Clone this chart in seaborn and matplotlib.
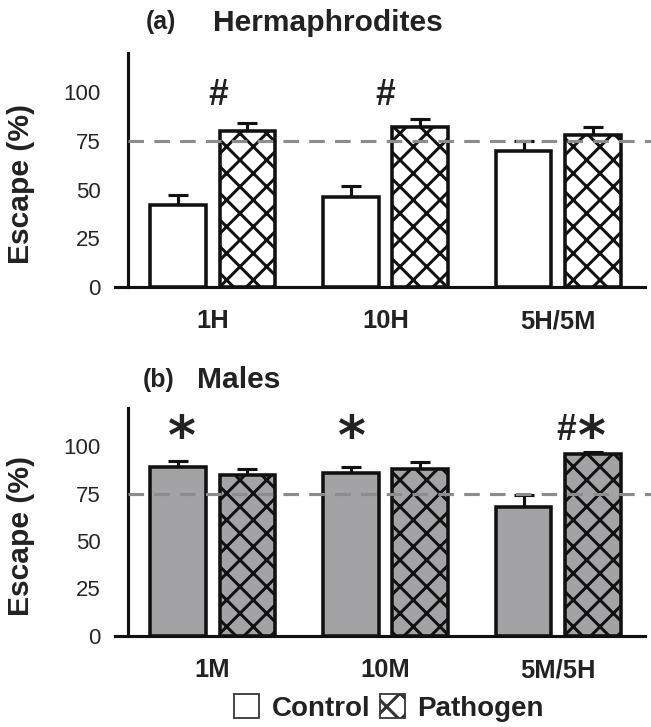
import matplotlib
matplotlib.use("Agg")
import matplotlib.pyplot as plt
from matplotlib.patches import Patch
import seaborn as sns
import pandas as pd

# ---------------- data ----------------
groups_top = ["1H", "10H", "5H/5M"]
groups_bot = ["1M", "10M", "5M/5H"]
conditions = ["Control", "Pathogen"]

top_control = [42, 46, 70]
top_control_err = [5, 6, 5]
top_pathogen = [80, 82, 78]
top_pathogen_err = [4, 4, 4]

bot_control = [89, 86, 68]
bot_control_err = [3, 3, 6]
bot_pathogen = [85, 88, 96]
bot_pathogen_err = [3, 3.5, 1]

threshold = 75
yticks = [0, 25, 50, 75, 100]

# ---------------- style ----------------
sns.set_style("white")
plt.rcParams["font.family"] = ["Liberation Sans", "DejaVu Sans"]
plt.rcParams["hatch.linewidth"] = 1.35
plt.rcParams["hatch.color"] = "black"

DPI = 160
W, H = 651, 727
fig = plt.figure(figsize=(W / DPI, H / DPI), dpi=DPI)
fig.patch.set_facecolor("white")

LW = 1.4
GRAY = "#a2a3a7"
TXT = "#222222"


def px_axes(left, right, top, bottom):
    return [left / W, 1 - bottom / H, (right - left) / W, (bottom - top) / H]


def make_panel(ax, groups, ctrl, ctrl_err, path, path_err, color):
    df = pd.DataFrame({
        "group": groups * 2,
        "condition": [conditions[0]] * 3 + [conditions[1]] * 3,
        "value": ctrl + path,
    })
    sns.barplot(data=df, x="group", y="value", hue="condition",
                order=groups, hue_order=conditions,
                palette={conditions[0]: color, conditions[1]: color},
                width=0.8, gap=0.2, edgecolor="#111111", linewidth=1.6,
                errorbar=None, legend=False, ax=ax, zorder=2)
    for bar in ax.containers[1]:
        bar.set_hatch("xx")
    for cont, errs in zip(ax.containers, [ctrl_err, path_err]):
        for bar, e in zip(cont, errs):
            x = bar.get_x() + bar.get_width() / 2
            v = bar.get_height()
            ax.errorbar(x, v, yerr=[[0], [e]], fmt="none", ecolor="#111111",
                        elinewidth=LW, capsize=4.7, capthick=LW, zorder=1)
    ax.axhline(threshold, xmin=0.0245, xmax=1.02, color="#8c8c8c", lw=LW,
               dashes=(5, 3.3), zorder=3, clip_on=False)
    ax.set_xlim(-0.565, 2.501)
    ax.set_ylim(0, 120)
    ax.set_yticks(yticks)
    ax.set_yticklabels([str(t) for t in yticks], fontsize=10.5, color=TXT)
    ax.set_xticks(range(3))
    ax.set_xticklabels(groups, fontsize=11.5, fontweight="bold", color=TXT)
    ax.tick_params(axis="y", length=5.85, width=LW, pad=6.5, color="#111111")
    ax.tick_params(axis="x", length=3.6, width=LW, pad=6.5, color="#111111")
    for s in ["top", "right"]:
        ax.spines[s].set_visible(False)
    for s in ["left", "bottom"]:
        ax.spines[s].set_linewidth(LW)
        ax.spines[s].set_color("#111111")
    ax.spines["left"].set_position(("axes", 0.0245))
    ax.set_xlabel("")
    ax.set_ylabel("Escape (%)", fontsize=13.5, fontweight="bold", color=TXT)
    ax.yaxis.set_label_coords(-0.151, 0.44)
    ax.set_facecolor("none")


ax1 = fig.add_axes(px_axes(115, 645, 53, 287))
make_panel(ax1, groups_top, top_control, top_control_err,
           top_pathogen, top_pathogen_err, "white")
ax2 = fig.add_axes(px_axes(115, 645, 408, 636))
make_panel(ax2, groups_bot, bot_control, bot_control_err,
           bot_pathogen, bot_pathogen_err, GRAY)

# significance marks
for gx in [0.03, 1.0]:
    ax1.text(gx, 98.0, "#", ha="center", va="center", fontsize=16,
             fontweight="bold", color=TXT)
for gx in [-0.177, 0.806, 2.194]:
    ax2.text(gx, 103.8, "*", ha="center", va="center", fontsize=24,
             fontweight="bold", color=TXT, family="DejaVu Sans")
ax2.text(2.044, 108.0, "#", ha="center", va="center", fontsize=16,
         fontweight="bold", color=TXT)

# panel titles
def fig_text(xpx, ypx, s, size, **kw):
    fig.text(xpx / W, 1 - ypx / H, s, fontsize=size, fontweight="bold",
             color=TXT, va="center", **kw)

fig_text(146, 22, "(a)", 11.2)
fig_text(213, 23, "Hermaphrodites", 13.5)
fig_text(143, 380, "(b)", 11.2)
fig_text(197, 380, "Males", 13.5)

# legend
handles = [Patch(facecolor="white", edgecolor="#333333", linewidth=0.8),
           Patch(facecolor="white", edgecolor="#333333", linewidth=0.8, hatch="xx")]
fig.legend(handles, conditions, loc="center", bbox_to_anchor=(389 / W, 1 - 708 / H),
           ncol=2, frameon=False, prop={"size": 12.5, "weight": "bold"},
           handlelength=0.9, handleheight=0.9, handletextpad=0.45,
           columnspacing=0.36, borderpad=0, labelcolor=TXT)

fig.savefig("out.png", dpi=DPI, facecolor="white")
